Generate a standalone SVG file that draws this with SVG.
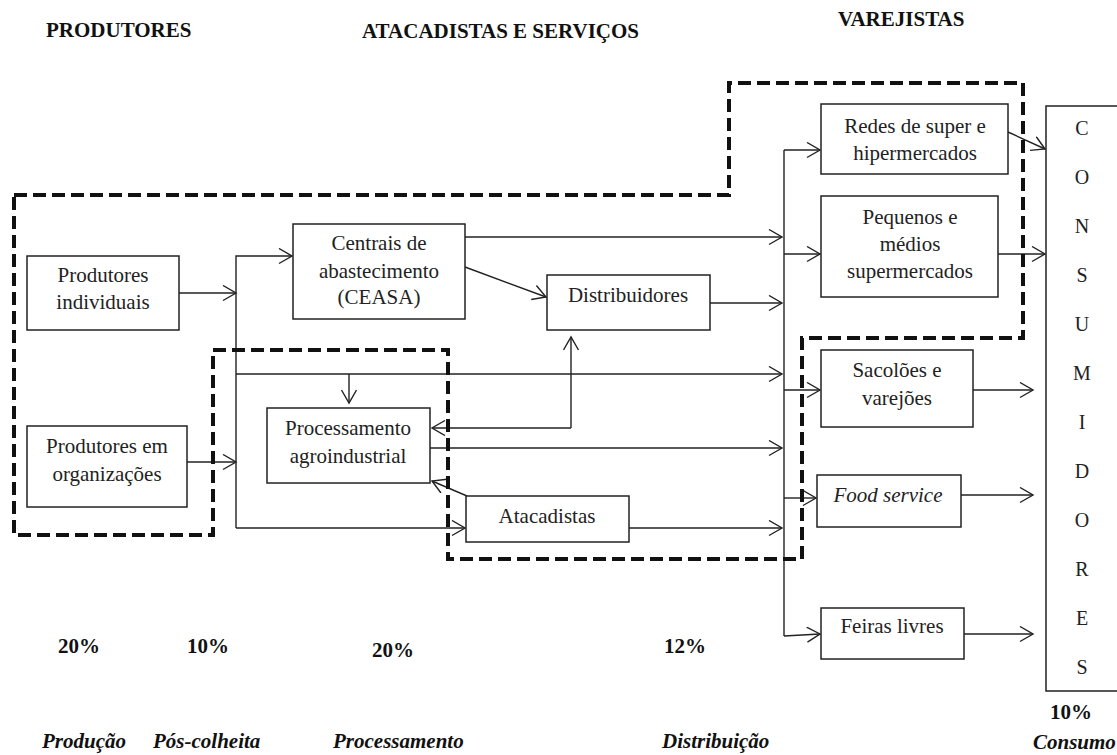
<svg xmlns="http://www.w3.org/2000/svg" width="1117" height="755" viewBox="0 0 1117 755">
  <style>
    .box { fill: #fff; stroke: #222; stroke-width: 1.5; }
    .lbl { font-family: "Liberation Serif", "Times New Roman", serif; font-size: 21px; fill: #222; text-anchor: middle; }
    .it { font-style: italic; }
    .hdr { font-family: "Liberation Serif", "Times New Roman", serif; font-size: 21px; font-weight: bold; fill: #111; }
    .stage { font-family: "Liberation Serif", "Times New Roman", serif; font-size: 21px; font-weight: bold; font-style: italic; fill: #111; }
    .letter { font-family: "Liberation Serif", "Times New Roman", serif; font-size: 20px; fill: #222; text-anchor: middle; }
    .conn path { fill: none; stroke: #222; stroke-width: 1.4; marker-end: url(#arrow); }
    .conn path.plain { marker-end: none; }
    .zone { fill: none; stroke: #111; stroke-width: 4; stroke-dasharray: 13 6; }
  </style>
  <defs>
    <marker id="arrow" markerUnits="userSpaceOnUse" markerWidth="16" markerHeight="18" refX="14" refY="8" orient="auto">
      <path d="M1,0.5 L14,8 L1,15.5" fill="none" stroke="#222" stroke-width="1.4"/>
    </marker>
  </defs>

  <rect width="1117" height="755" fill="#fff"/>

  <!-- column headings -->
  <g id="headings">
    <text class="hdr" x="46" y="37">PRODUTORES</text>
    <text class="hdr" x="362" y="38">ATACADISTAS E SERVIÇOS</text>
    <text class="hdr" x="838" y="26">VAREJISTAS</text>
  </g>

  <!-- connectors -->
  <g id="connectors" class="conn">
    <path d="M179,293 H236"/>
    <path d="M236,528 V256 H292"/>
    <path d="M187,462 H236"/>
    <path d="M236,528 H465"/>
    <path d="M236,374 H782"/>
    <path d="M349,374 V403"/>
    <path d="M465,237 H782"/>
    <path d="M465,267 L546,297"/>
    <path d="M710,303 H782"/>
    <path d="M571,428 V337"/>
    <path d="M571,428 H432"/>
    <path d="M430,448 H782"/>
    <path d="M467,496 L432,481"/>
    <path d="M629,528 H782"/>
    <path class="plain" d="M784,150 V636"/>
    <path d="M784,150 H820"/>
    <path d="M784,254 H820"/>
    <path d="M784,390 H820"/>
    <path d="M784,498 H816"/>
    <path d="M784,636 L820,634"/>
    <path d="M1008,132 L1045,149"/>
    <path d="M998,254 H1045"/>
    <path d="M973,390 H1033"/>
    <path d="M961,495 H1033"/>
    <path d="M964,634 H1033"/>
  </g>

  <!-- producers -->
  <g id="produtores-individuais">
    <rect class="box" x="27" y="256" width="152" height="74"/>
    <text class="lbl" x="103" y="282">Produtores</text>
    <text class="lbl" x="103" y="309">individuais</text>
  </g>
  <g id="produtores-organizacoes">
    <rect class="box" x="27" y="426" width="160" height="81"/>
    <text class="lbl" x="107" y="453">Produtores em</text>
    <text class="lbl" x="107" y="481">organizações</text>
  </g>

  <!-- wholesale and services -->
  <g id="ceasa">
    <rect class="box" x="293" y="224" width="172" height="95"/>
    <text class="lbl" x="379" y="250">Centrais de</text>
    <text class="lbl" x="379" y="278">abastecimento</text>
    <text class="lbl" x="379" y="304">(CEASA)</text>
  </g>
  <g id="distribuidores">
    <rect class="box" x="547" y="275" width="163" height="55"/>
    <text class="lbl" x="628" y="302">Distribuidores</text>
  </g>
  <g id="processamento">
    <rect class="box" x="267" y="408" width="163" height="75"/>
    <text class="lbl" x="348" y="435">Processamento</text>
    <text class="lbl" x="348" y="463">agroindustrial</text>
  </g>
  <g id="atacadistas">
    <rect class="box" x="466" y="496" width="163" height="46"/>
    <text class="lbl" x="547" y="523">Atacadistas</text>
  </g>

  <!-- retail -->
  <g id="redes">
    <rect class="box" x="821" y="104" width="187" height="70"/>
    <text class="lbl" x="915" y="133">Redes de super e</text>
    <text class="lbl" x="915" y="160">hipermercados</text>
  </g>
  <g id="pequenos">
    <rect class="box" x="821" y="196" width="177" height="101"/>
    <text class="lbl" x="910" y="224">Pequenos e</text>
    <text class="lbl" x="910" y="251">médios</text>
    <text class="lbl" x="910" y="278">supermercados</text>
  </g>
  <g id="sacoloes">
    <rect class="box" x="821" y="350" width="152" height="77"/>
    <text class="lbl" x="897" y="377">Sacolões e</text>
    <text class="lbl" x="897" y="405">varejões</text>
  </g>
  <g id="food-service">
    <rect class="box" x="817" y="475" width="144" height="52"/>
    <text class="lbl it" x="888" y="502">Food service</text>
  </g>
  <g id="feiras">
    <rect class="box" x="821" y="608" width="143" height="51"/>
    <text class="lbl" x="892" y="633">Feiras livres</text>
  </g>

  <!-- consumers -->
  <g id="consumidores">
    <path d="M1125,106 H1046 V691 H1125" fill="#fff" stroke="#222" stroke-width="1.5"/>
    <text class="letter" x="1082" y="135">C</text>
    <text class="letter" x="1082" y="184">O</text>
    <text class="letter" x="1082" y="233">N</text>
    <text class="letter" x="1082" y="282">S</text>
    <text class="letter" x="1082" y="331">U</text>
    <text class="letter" x="1082" y="380">M</text>
    <text class="letter" x="1082" y="429">I</text>
    <text class="letter" x="1082" y="478">D</text>
    <text class="letter" x="1082" y="527">O</text>
    <text class="letter" x="1082" y="576">R</text>
    <text class="letter" x="1082" y="625">E</text>
    <text class="letter" x="1082" y="674">S</text>
  </g>

  <!-- dashed boundary -->
  <path class="zone" d="M14,195 H729 V83 H1023 V338 H802 V559 H448 V350 H213 V535 H14 Z"/>

  <!-- loss percentages and stages -->
  <g id="perdas">
    <text class="hdr" x="58" y="653">20%</text>
    <text class="hdr" x="187" y="653">10%</text>
    <text class="hdr" x="372" y="657">20%</text>
    <text class="hdr" x="664" y="653">12%</text>
    <text class="hdr" x="1050" y="719">10%</text>
  </g>
  <g id="etapas">
    <text class="stage" x="42" y="748">Produção</text>
    <text class="stage" x="153" y="748">Pós-colheita</text>
    <text class="stage" x="333" y="748">Processamento</text>
    <text class="stage" x="662" y="748">Distribuição</text>
    <text class="stage" x="1033" y="749">Consumo</text>
  </g>
</svg>
